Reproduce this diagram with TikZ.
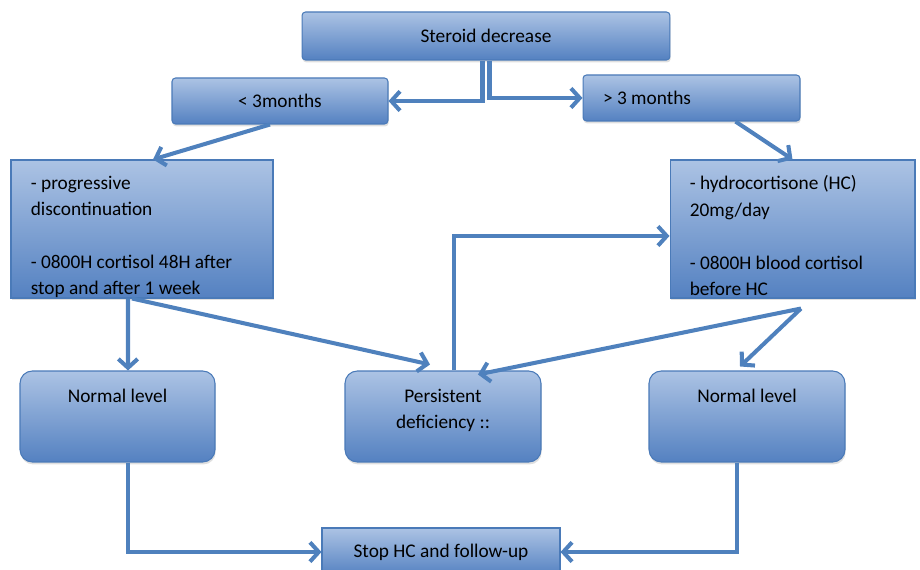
\documentclass[tikz,border=0pt]{standalone}
\usepackage{fontspec}
\setmainfont{Carlito}
\usetikzlibrary{positioning}
\usetikzlibrary{shadows}
\usetikzlibrary{arrows.meta}
\definecolor{boxtop}{RGB}{172,195,228}
\definecolor{boxbot}{RGB}{84,129,193}
\definecolor{boxline}{RGB}{74,122,184}
\definecolor{arrcol}{RGB}{79,129,189}
\tikzset{
	box/.style={draw=boxline,line width=0.6pt,top color=boxtop,bottom color=boxbot,rounded corners=2pt,inner sep=0pt,
		drop shadow={shadow xshift=0.4pt,shadow yshift=-1.4pt,opacity=0.25}},
	bigbox/.style={box,rounded corners=0pt},
	rbox/.style={box,rounded corners=7pt},
	txt/.style={inner sep=0pt,align=left},
	arr/.style={draw=arrcol,line width=2.3pt,-{Straight Barb[length=5pt,width=11pt]}},
	}
\begin{document}
\begin{tikzpicture}[x=0.02cm,y=-0.02cm,font=\fontsize{11}{15}\selectfont]
\useasboundingbox (0,0) rectangle (920,570);

\node (sd) at (486,36) [box, minimum width=7.36cm, minimum height=0.96cm] {Steroid decrease};
\node (lt) at (280,101) [box, minimum width=4.32cm, minimum height=0.92cm] {< 3months};
\node (gt) at (691.5,98) [box, minimum height=0.92cm, text width=3.54cm, inner xsep=0.4cm, align=flush left] {> 3 months};

\node (lb) at (142,229) [bigbox, minimum width=5.24cm, minimum height=2.76cm] {};
\node (lbtxt) [txt, below right=0.32cm and 0.4cm of lb.north west] {- progressive\\discontinuation\\[15pt]- 0800H cortisol 48H after\\stop and after 1 week};
\node (rb) at (792.5,229) [bigbox, minimum width=4.9cm, minimum height=2.76cm] {};
\node (rbtxt) [txt, below right=0.32cm and 0.4cm of rb.north west] {- hydrocortisone (HC)\\20mg/day\\[15pt]- 0800H blood cortisol\\before HC};

\node (nl) at (117.5,416.5) [rbox, minimum width=3.9cm, minimum height=1.82cm] {};
\node (nltxt) [txt, below=0.37cm of nl.north] {Normal level};
\node (pd) at (443,416.5) [rbox, minimum width=3.92cm, minimum height=1.82cm] {};
\node (pdtxt) [txt, align=center, below=0.37cm of pd.north] {Persistent\\deficiency ::};
\node (nr) at (747,416.5) [rbox, minimum width=3.92cm, minimum height=1.82cm] {};
\node (nrtxt) [txt, below=0.37cm of nr.north] {Normal level};

\node (ss) at (441,552) [bigbox, minimum width=4.76cm, minimum height=0.96cm] {Stop HC and follow-up};

% connectors
\draw[arr] ([xshift=-0.07cm]sd.south) |- (lt.east);
\draw[arr] ([xshift=0.07cm]sd.south) |- (gt.west);
\draw[arr] ([xshift=-0.2cm]lt.south) -- ([xshift=0.22cm]lb.north);
\draw[arr] ([xshift=0.88cm]gt.south) -- (rb.north);
\draw[arr] ([xshift=-0.28cm]lb.south) -- ([xshift=0.21cm]nl.north);
\draw[arr] ([xshift=-0.2cm]lb.south) -- ([shift={(-0.26cm,0.12cm)}]pd.north);
\draw[arr] ([xshift=0.22cm]pd.north) |- ([yshift=-0.14cm]rb.west);
\coordinate (rbout) at ([shift={(0.17cm,-0.2cm)}]rb.south);
\draw[arr] (rbout) -- ([shift={(0.7cm,-0.08cm)}]pd.north);
\draw[arr] (rbout) -- ([shift={(-0.14cm,0.08cm)}]nr.north);
\draw[arr] ([xshift=0.21cm]nl.south) |- (ss.west);
\draw[arr] ([xshift=-0.2cm]nr.south) |- (ss.east);
\end{tikzpicture}
\end{document}
